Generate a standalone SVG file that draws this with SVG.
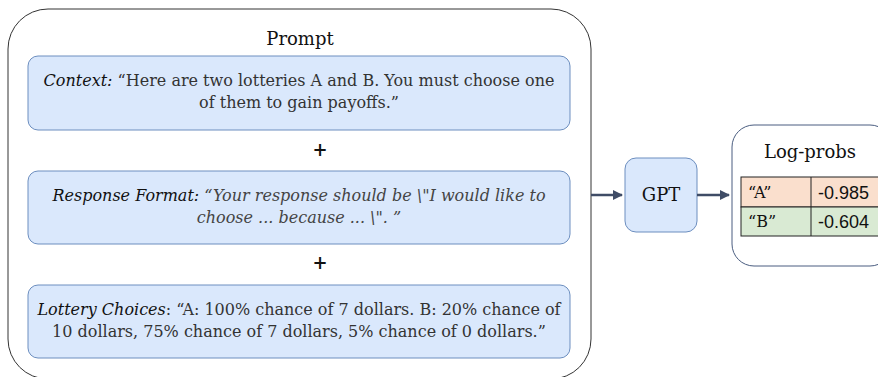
<svg xmlns="http://www.w3.org/2000/svg" width="878" height="377" viewBox="0 0 878 377">
<defs>
<style>
.t{font-family:"DejaVu Serif","Liberation Serif",serif;font-size:16px;fill:#333}
.k{font-style:italic;fill:#111}
.i{font-style:italic;fill:#444}
.ttl{font-family:"DejaVu Serif","Liberation Serif",serif;font-size:18px;fill:#111}
.blue{fill:#dae8fc;stroke:#6c8ebf;stroke-width:1}
.sans{font-family:"Liberation Sans",Arial,sans-serif;font-size:18px;fill:#111}
.conn{stroke:#3f4c66;stroke-width:2.5;fill:none}
</style>
<marker id="ah" viewBox="0 0 10 10" refX="9" refY="5" markerWidth="4" markerHeight="4" orient="auto" markerUnits="strokeWidth">
<path d="M0,0 L10,5 L0,10 Z" fill="#3f4c66"/>
</marker>
</defs>
<g id="prompt">
<rect x="8" y="9" width="583" height="370" rx="40" ry="40" fill="#fff" stroke="#333" stroke-width="1"/>
<text class="ttl" x="300" y="45" text-anchor="middle">Prompt</text>
</g>
<g id="context">
<rect class="blue" x="28" y="56" width="542" height="74" rx="10"/>
<text class="t" x="299" y="86" text-anchor="middle"><tspan class="k">Context:</tspan> “Here are two lotteries A and B. You must choose one</text>
<text class="t" x="299" y="108" text-anchor="middle">of them to gain payoffs.”</text>
</g>
<g id="plus1"><text class="ttl" x="320" y="156" text-anchor="middle" font-weight="bold">+</text></g>
<g id="response">
<rect class="blue" x="28" y="171" width="542" height="73" rx="10"/>
<text class="t" x="299" y="201" text-anchor="middle"><tspan class="k">Response Format:</tspan> <tspan class="i">“Your response should be \"I would like to</tspan></text>
<text class="t i" x="299" y="223" text-anchor="middle">choose ... because ... \". ”</text>
</g>
<g id="plus2"><text class="ttl" x="320" y="269" text-anchor="middle" font-weight="bold">+</text></g>
<g id="lottery">
<rect class="blue" x="28" y="285" width="542" height="73" rx="10"/>
<text class="t" x="299" y="315" text-anchor="middle"><tspan class="k">Lottery Choices</tspan>: “A: 100% chance of 7 dollars. B: 20% chance of</text>
<text class="t" x="299" y="337" text-anchor="middle">10 dollars, 75% chance of 7 dollars, 5% chance of 0 dollars.”</text>
</g>
<g id="gpt">
<rect class="blue" x="625" y="158" width="72" height="74" rx="11" stroke="#333"/>
<text class="ttl" x="661" y="201" text-anchor="middle">GPT</text>
</g>
<g id="logprobs">
<rect x="732" y="125" width="160" height="141" rx="22" fill="#fff" stroke="#4a5d80" stroke-width="1"/>
<text class="ttl" x="810" y="158" text-anchor="middle">Log-probs</text>
<rect x="741" y="177" width="150" height="30" fill="#fadfcd" stroke="#222" stroke-width="1"/>
<rect x="741" y="207" width="150" height="29" fill="#d9ead3" stroke="#222" stroke-width="1"/>
<line x1="811" y1="177" x2="811" y2="236" stroke="#222" stroke-width="1"/>
<text class="t" x="748" y="198" style="fill:#111">“A”</text>
<text class="t" x="748" y="227" style="fill:#111">“B”</text>
<text class="sans" x="818" y="199">-0.985</text>
<text class="sans" x="818" y="228">-0.604</text>
</g>
<g id="connectors">
<line class="conn" x1="591" y1="195" x2="622" y2="195" marker-end="url(#ah)"/>
<line class="conn" x1="697" y1="195" x2="729" y2="195" marker-end="url(#ah)"/>
</g>
</svg>
